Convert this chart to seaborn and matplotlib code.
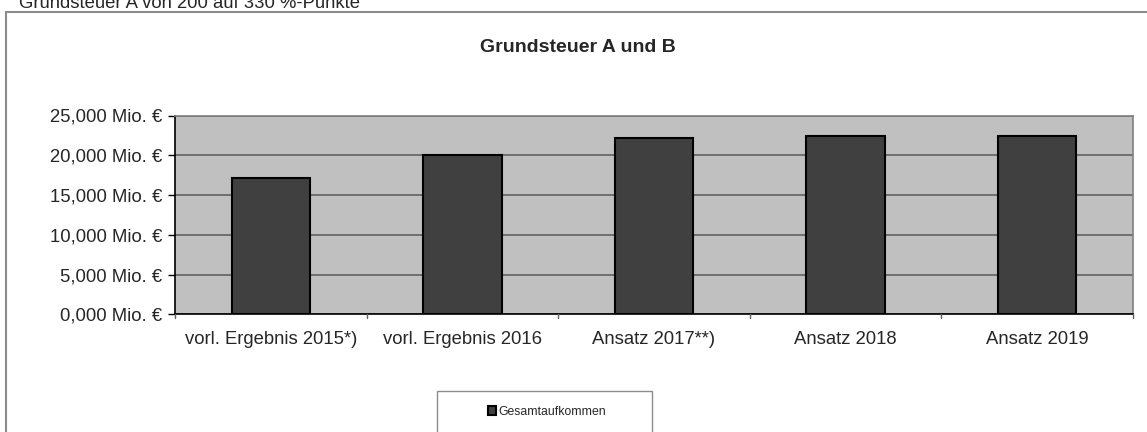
import matplotlib
matplotlib.use("Agg")
import matplotlib.pyplot as plt
import seaborn as sns
import pandas as pd
from matplotlib.patches import Rectangle
from matplotlib.ticker import FuncFormatter, MultipleLocator

kategorien = ["vorl. Ergebnis 2015*)", "vorl. Ergebnis 2016", "Ansatz 2017**)",
              "Ansatz 2018", "Ansatz 2019"]
aufkommen = [17.10, 20.07, 22.13, 22.46, 22.42]  # Mio. €
serie = "Gesamtaufkommen"

df = pd.DataFrame({"Kategorie": kategorien, "Wert": aufkommen})

sns.set_style("white")
plt.rcParams["font.family"] = ["Liberation Sans", "DejaVu Sans"]

fig = plt.figure(figsize=(11.47, 4.32), dpi=100)
W, H = 1147, 432
ax = fig.add_axes([175 / W, 1 - 314.3 / H, (1133 - 175) / W, (314.3 - 115.5) / H])
ax.set_facecolor("#c0c0c0")

sns.barplot(data=df, x="Kategorie", y="Wert", color="#404040", width=0.41,
            edgecolor="black", linewidth=1.5, saturation=1, ax=ax, zorder=3,
            label=serie)
handles, labels = ax.get_legend_handles_labels()
if ax.get_legend() is not None:
    ax.get_legend().remove()

ax.set_ylim(0, 25)
ax.set_xlim(-0.5, len(kategorien) - 0.5)
ax.yaxis.set_major_locator(MultipleLocator(5))
ax.yaxis.set_major_formatter(FuncFormatter(
    lambda v, p: f"{v:.3f}".replace(".", ",") + " Mio. €"))
ax.grid(axis="y", color="#5a5a5a", linewidth=1.1, zorder=1)
ax.set_axisbelow(True)
ax.set_xlabel("")
ax.set_ylabel("")

# x ticks between categories, labels centered under bars
ax.set_xticks(list(range(len(kategorien))))
ax.set_xticklabels(kategorien, fontsize=13.3)
ax.tick_params(axis="x", length=0, pad=12)
for b in range(len(kategorien) + 1):
    ax.plot([b - 0.5, b - 0.5], [0, -0.45], color="#606060", lw=1,
            clip_on=False, zorder=4)
ax.tick_params(axis="y", labelsize=13.3, length=5, width=1, color="black",
               left=True, direction="out", pad=4)

for s in ["left", "bottom"]:
    ax.spines[s].set_color("black")
    ax.spines[s].set_linewidth(1.2)
for s in ["top", "right"]:
    ax.spines[s].set_color("#808080")
    ax.spines[s].set_linewidth(1.2)
    ax.spines[s].set_visible(True)

fig.text(578 / W, 1 - 48 / H, "Grundsteuer A und B", ha="center", va="center",
         fontsize=14, fontweight="bold")
fig.text(19 / W, 1 - 8 / H, "Grundsteuer A von 200 auf 330 %-Punkte",
         ha="left", va="baseline", fontsize=13.3)

# outer chart frame
fig.patches.append(Rectangle((6 / W, -0.1), 1.2, 1 - 12 / H + 0.1,
                             transform=fig.transFigure, fill=False,
                             edgecolor="#8c8c8c", linewidth=1.5))
# legend box
fig.patches.append(Rectangle((437 / W, -0.05), (652 - 437) / W, 1 - 391 / H + 0.05,
                             transform=fig.transFigure, facecolor="white",
                             edgecolor="#8c8c8c", linewidth=1))
leg = fig.legend(handles[:1], labels[:1], loc="center",
                 bbox_to_anchor=(547 / W, 1 - 412 / H), frameon=False,
                 fontsize=8.8, handlelength=0.7, handleheight=0.7,
                 handletextpad=0.2)

fig.savefig("out.png", dpi=100)
